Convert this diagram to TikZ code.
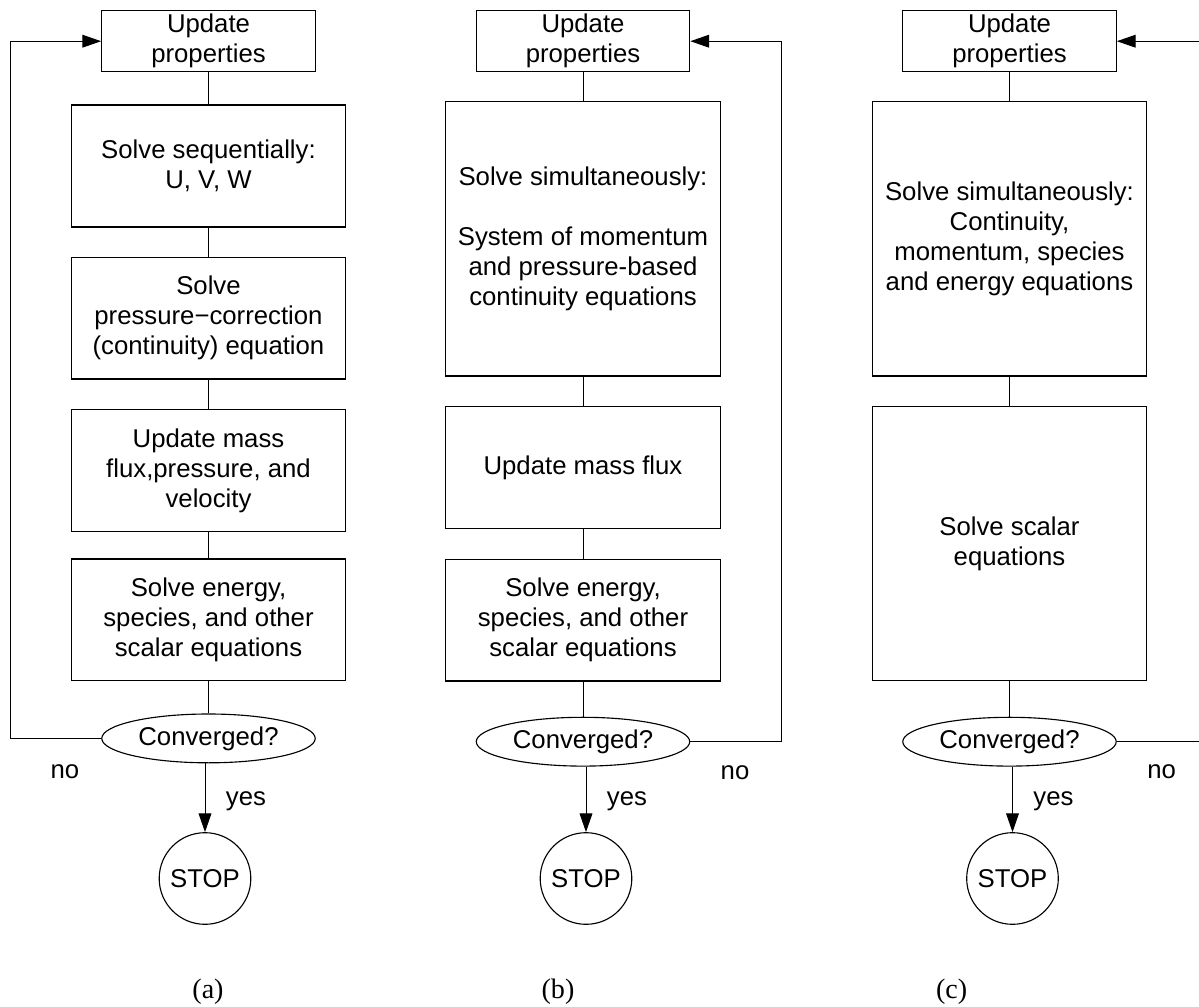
\documentclass[tikz,border=0pt]{standalone}
\usepackage{fontspec}
\setmainfont{Liberation Sans}
\newfontfamily\capfont{Liberation Serif}
\usetikzlibrary{arrows.meta,shapes.geometric}

\tikzset{
  box/.style={draw,line width=0.9pt,align=center,inner sep=0pt,
    minimum width=6.86cm,minimum height=#1},
  upbox/.style={draw,line width=0.9pt,align=center,inner sep=0pt,
    minimum width=5.335cm,minimum height=1.525cm},
  conv/.style={draw,ellipse,line width=0.8pt,inner sep=0pt,
    minimum width=5.335cm,minimum height=1.22cm},
  stopnode/.style={draw,circle,line width=0.8pt,inner sep=0pt,minimum size=2.29cm},
  wire/.style={line width=0.7pt},
  subcap/.style={font=\capfont\fontsize{20}{24}\selectfont}
}

\begin{document}
\begin{tikzpicture}[x=0.025cm,y=-0.025cm,>={Triangle[length=0.47cm,width=0.32cm]},
    font=\fontsize{18.3}{21.3}\selectfont]
  \useasboundingbox (0,0) rectangle (1199,1007);

  \foreach \p/\x/\cy/\sx/\capx in {a/208.5/738.4/205/208,b/583/741.7/586/558,c/1009.5/741.7/1012.5/951.7}
    {
      \node[upbox] (up-\p) at (\x,41.2) {Update\\properties};
      \node[conv] (conv-\p) at (\x,\cy) {Converged?};
      \node[stopnode] (stop-\p) at (\sx,878.5) {STOP};
      \draw[wire,->] (stop-\p.north |- conv-\p.south) -- (stop-\p.north);
      \node[right] (yes-\p) at (\sx+16,801) {yes};
      \node[subcap] (cap-\p) at (\capx,992) {(\p)};
    }

  % (a)
  \node[box=3.05cm] (a1) at (208.5,166) {Solve sequentially:\\U, V, W};
  \node[box=3.04cm] (a2) at (208.5,318.2) {Solve\\pressure−correction\\(continuity) equation};
  \node[box=3.04cm] (a3) at (208.5,470.5) {Update mass\\flux,pressure, and\\velocity};
  \node[box=3.04cm] (a4) at (208.5,619.9) {Solve energy,\\species, and other\\scalar equations};
  \draw[wire] (up-a) -- (a1) -- (a2) -- (a3) -- (a4) -- (conv-a);
  \coordinate (fb-a) at (10.3,41.2);
  \draw[wire,->] (conv-a.west) -| (fb-a) -- (up-a.west);
  \node (no-a) at (65,772) {no};

  % (b)
  \node[box=6.86cm] (b1) at (583,238.8) {Solve simultaneously:\\[21.3pt]System of momentum\\and pressure-based\\continuity equations};
  \node[box=3.04cm] (b2) at (583,467.5) {Update mass flux};
  \node[box=3.04cm] (b3) at (583,620.1) {Solve energy,\\species, and other\\scalar equations};
  \draw[wire] (up-b) -- (b1) -- (b2) -- (b3) -- (conv-b);
  \coordinate (fb-b) at (781,41.2);
  \draw[wire,->] (conv-b.east) -| (fb-b) -- (up-b.east);
  \node (no-b) at (735,772.7) {no};

  % (c)
  \node[box=6.86cm] (c1) at (1009.5,238.8) {Solve simultaneously:\\Continuity,\\momentum, species\\and energy equations};
  \node[box=6.85cm] (c2) at (1009.5,543.7) {Solve scalar\\equations};
  \draw[wire] (up-c) -- (c1) -- (c2) -- (conv-c);
  \coordinate (fb-c1) at (1199,741.7);
  \coordinate (fb-c2) at (1199,41.2);
  \draw[wire] (conv-c.east) -- (fb-c1);
  \draw[wire,->] (fb-c2) -- (up-c.east);
  \node (no-c) at (1161.7,772) {no};
\end{tikzpicture}
\end{document}
